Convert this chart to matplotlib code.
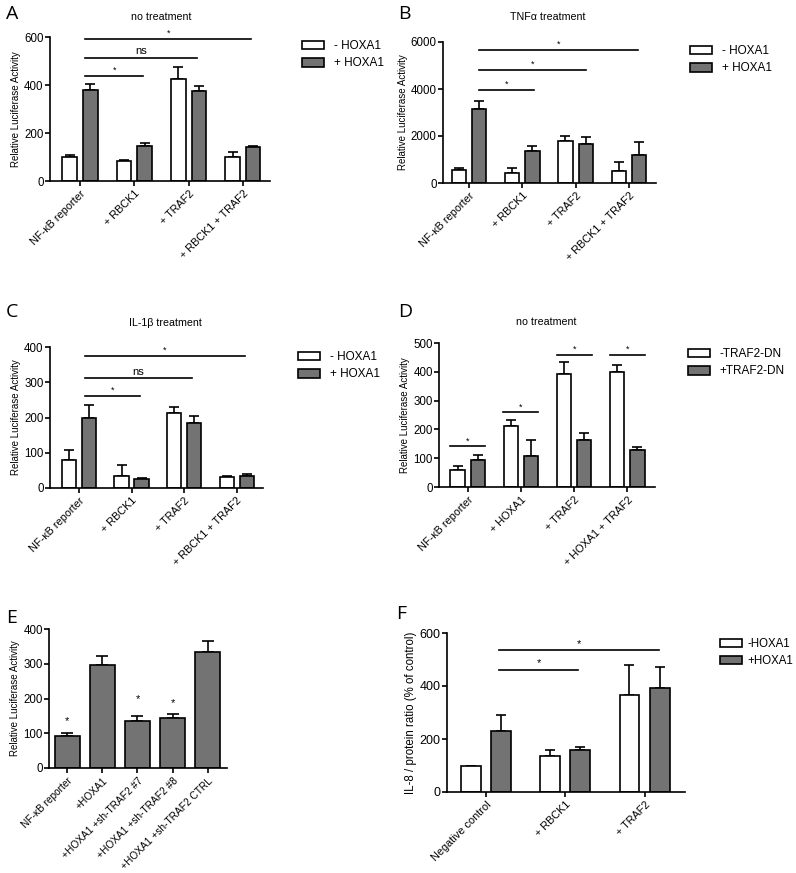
import numpy as np
import matplotlib.pyplot as plt
from matplotlib.patches import Patch

plt.rcParams['font.family'] = ['Liberation Sans', 'DejaVu Sans']

GREY = "#737373"

# -------- datos --------
grupos_abc = ["NF-κB reporter", "+ RBCK1", "+ TRAF2", "+ RBCK1 + TRAF2"]

a_menos = [102, 84, 427, 101]
a_menos_err = [5, 3, 46, 20]
a_mas = [378, 147, 375, 142]
a_mas_err = [27, 11, 22, 2]

b_menos = [540, 420, 1780, 520]
b_menos_err = [100, 220, 220, 380]
b_mas = [3160, 1350, 1680, 1200]
b_mas_err = [350, 230, 280, 560]

c_menos = [80, 35, 214, 31]
c_menos_err = [28, 31, 16, 2]
c_mas = [198, 25, 183, 33]
c_mas_err = [37, 4, 20, 8]

grupos_d = ["NF-κB reporter", "+ HOXA1", "+ TRAF2", "+ HOXA1 + TRAF2"]
d_menos = [60, 213, 394, 400]
d_menos_err = [14, 21, 40, 23]
d_mas = [95, 108, 164, 128]
d_mas_err = [17, 55, 24, 11]

grupos_e = ["NF-κB reporter", "+HOXA1", "+HOXA1 +sh-TRAF2 #7",
            "+HOXA1 +sh-TRAF2 #8", "+HOXA1 +sh-TRAF2 CTRL"]
e_val = [92, 297, 134, 144, 335]
e_err = [8, 24, 15, 12, 30]
e_estrella = [0, 2, 3]
e_estrella_y = [120, 185, 172]

grupos_f = ["Negative control", "+ RBCK1", "+ TRAF2"]
f_menos = [100, 137, 365]
f_menos_err = [0, 20, 113]
f_mas = [231, 160, 391]
f_mas_err = [58, 10, 82]


def dibujar_pares(ax, menos, menos_err, mas, mas_err, ancho=0.27, sep=0.19):
    x = np.arange(len(menos))
    for xs, vals, errs, color in [(x - sep, menos, menos_err, "white"),
                                  (x + sep, mas, mas_err, GREY)]:
        ax.bar(xs, vals, width=ancho, color=color, edgecolor="black",
               linewidth=1.2, zorder=2)
        errs = np.array(errs)
        ax.errorbar(xs, vals, yerr=[np.zeros_like(errs), errs], fmt="none",
                    ecolor="black", elinewidth=1.2, capsize=3.5, capthick=1.2,
                    zorder=1)


def estilo(ax, etiquetas, ylim, yticks, ylabel="Relative Luciferase Activity", fs_x=7.8):
    ax.set_ylim(*ylim)
    ax.set_yticks(yticks)
    ax.set_xticks(np.arange(len(etiquetas)))
    ax.set_xticklabels(etiquetas, rotation=45, ha="right",
                       rotation_mode="anchor", fontsize=fs_x)
    ax.spines["top"].set_visible(False)
    ax.spines["right"].set_visible(False)
    ax.spines["left"].set_linewidth(1.2)
    ax.spines["bottom"].set_linewidth(1.2)
    ax.tick_params(axis="y", labelsize=8.3, width=1.2, length=3.5, pad=1)
    ax.tick_params(axis="x", width=1.2, length=3.5, pad=2)
    ax.set_ylabel(ylabel, fontsize=7, labelpad=2)


def linea_sig(ax, x0, x1, y, texto, dy, fs=6.5):
    ax.plot([x0, x1], [y, y], color="black", linewidth=1.2, clip_on=False)
    ax.text((x0 + x1) / 2, y + dy, texto, ha="center", va="bottom",
            fontsize=fs, clip_on=False)


def leyenda(ax, nombres, x, y, fs=8.5, pad=0.8):
    handles = [Patch(facecolor="white", edgecolor="black", linewidth=1.2),
               Patch(facecolor=GREY, edgecolor="black", linewidth=1.2)]
    ax.legend(handles, nombres, loc="upper left", bbox_to_anchor=(x, y),
              bbox_transform=fig.transFigure, frameon=False, fontsize=fs,
              handlelength=1.9, handleheight=0.75, labelspacing=0.45,
              handletextpad=pad, borderaxespad=0, borderpad=0)


W, H = 796, 873
fig = plt.figure(figsize=(W / 100, H / 100), dpi=100)


def ejes(x0, x1, ytop, ybot):
    return fig.add_axes([x0 / W, 1 - ybot / H, (x1 - x0) / W, (ybot - ytop) / H])


# -------- A --------
ax = ejes(50, 270, 37, 181)
dibujar_pares(ax, a_menos, a_menos_err, a_mas, a_mas_err)
estilo(ax, grupos_abc, (0, 600), [0, 200, 400, 600])
ax.set_xlim(-0.55, 3.5)
linea_sig(ax, 0.1, 3.15, 593, "*", 5)
linea_sig(ax, 0.1, 2.15, 514, "ns", 5, fs=8)
linea_sig(ax, 0.1, 1.16, 438, "*", 5)
fig.text(161 / W, 1 - 17 / H, "no treatment", ha="center", va="center", fontsize=7.7)
leyenda(ax, ["- HOXA1", "+ HOXA1"], 302 / W, 1 - 40 / H)

# -------- B --------
ax = ejes(443, 656, 42, 183)
dibujar_pares(ax, b_menos, b_menos_err, b_mas, b_mas_err)
estilo(ax, grupos_abc, (0, 6000), [0, 2000, 4000, 6000])
ax.set_xlim(-0.49, 3.51)
linea_sig(ax, 0.18, 3.18, 5645, "*", 50)
linea_sig(ax, 0.18, 2.2, 4794, "*", 50)
linea_sig(ax, 0.18, 1.22, 3943, "*", 50)
fig.text(548 / W, 1 - 17 / H, "TNFα treatment", ha="center", va="center", fontsize=7.7)
leyenda(ax, ["- HOXA1", "+ HOXA1"], 690 / W, 1 - 45 / H)

# -------- C --------
ax = ejes(50, 263, 347, 488)
dibujar_pares(ax, c_menos, c_menos_err, c_mas, c_mas_err)
estilo(ax, grupos_abc, (0, 400), [0, 100, 200, 300, 400])
ax.set_xlim(-0.55, 3.5)
linea_sig(ax, 0.12, 3.15, 375, "*", 3)
linea_sig(ax, 0.12, 2.15, 313, "ns", 3, fs=8)
linea_sig(ax, 0.12, 1.16, 261, "*", 3)
fig.text(165 / W, 1 - 323 / H, "IL-1β treatment", ha="center", va="center", fontsize=7.7)
leyenda(ax, ["- HOXA1", "+ HOXA1"], 298 / W, 1 - 351 / H)

# -------- D --------
ax = ejes(439, 655, 343, 487)
dibujar_pares(ax, d_menos, d_menos_err, d_mas, d_mas_err)
estilo(ax, grupos_d, (0, 500), [0, 100, 200, 300, 400, 500])
ax.set_xlim(-0.54, 3.52)
for i, y in enumerate([141, 259, 459, 459]):
    linea_sig(ax, i - 0.33, i + 0.33, y, "*", 4)
fig.text(546 / W, 1 - 322 / H, "no treatment", ha="center", va="center", fontsize=7.7)
leyenda(ax, ["-TRAF2-DN", "+TRAF2-DN"], 688 / W, 1 - 348 / H)

# -------- E --------
ax = ejes(49, 227, 629, 768)
x = np.arange(len(e_val))
ax.bar(x, e_val, width=0.71, color=GREY, edgecolor="black", linewidth=1.2, zorder=2)
ax.errorbar(x, e_val, yerr=[np.zeros(len(e_err)), e_err], fmt="none",
            ecolor="black", elinewidth=1.2, capsize=4, capthick=1.2, zorder=1)
estilo(ax, grupos_e, (0, 400), [0, 100, 200, 300, 400], fs_x=7.3)
ax.set_xlim(-0.52, 4.55)
for i, y in zip(e_estrella, e_estrella_y):
    ax.text(i, y, "*", ha="center", va="bottom", fontsize=8)

# -------- F --------
ax = ejes(447, 685, 633, 792)
dibujar_pares(ax, f_menos, f_menos_err, f_mas, f_mas_err, ancho=0.25, sep=0.19)
estilo(ax, grupos_f, (0, 600), [0, 200, 400, 600],
       ylabel="IL-8 / protein ratio (% of control)")
ax.yaxis.label.set_fontsize(8.3)
ax.tick_params(axis="y", labelsize=9)
ax.set_xlim(-0.49, 2.51)
linea_sig(ax, 0.17, 2.18, 535, "*", 6, fs=8)
linea_sig(ax, 0.17, 1.16, 462, "*", 6, fs=8)
leyenda(ax, ["-HOXA1", "+HOXA1"], 720 / W, 1 - 638 / H, fs=8.3, pad=0.45)

# -------- letras --------
for letra, lx, ly in [("A", 6, 5), ("B", 398, 5), ("C", 6, 303), ("D", 398, 303),
                      ("E", 6, 609), ("F", 396, 605)]:
    fig.text(lx / W, 1 - ly / H, letra, ha="left", va="top", fontsize=14,
             family=["Open Sans", "DejaVu Sans"])

fig.savefig("out.png", dpi=100)
